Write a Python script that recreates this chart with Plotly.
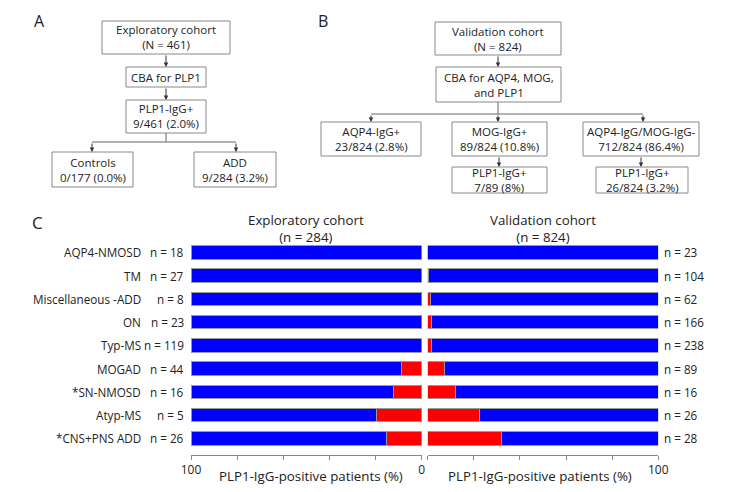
import plotly.graph_objects as go

W, H = 733, 492
OFF = 8  # page body margin offset compensation

categories = ["AQP4-NMOSD", "TM", "Miscellaneous -ADD", "ON", "Typ-MS",
              "MOGAD", "*SN-NMOSD", "Atyp-MS", "*CNS+PNS ADD"]
expl_n = [18, 27, 8, 23, 119, 44, 16, 5, 26]
valid_n = [23, 104, 62, 166, 238, 89, 16, 26, 28]
expl_pos_pct = [0, 0, 0, 0, 0, 8.7, 12.3, 19.6, 15.1]
valid_pos_pct = [0, 0.5, 1.3, 1.5, 1.7, 7.4, 12.0, 22.5, 31.8]
expl_neg_pct = [100 - v for v in expl_pos_pct]
valid_neg_pct = [100 - v for v in valid_pos_pct]

tick_vals = [0, 20, 40, 60, 80, 100]
tick_text_left = ["0", "", "", "", "", "100"]
tick_text_right = ["", "", "", "", "", "100"]

# flowchart content
boxes_A = [
    ("Exploratory cohort<br>(N = 461)", (102, 21, 230, 54)),
    ("CBA for PLP1", (126, 67, 206, 87)),
    ("PLP1-IgG+<br>9/461 (2.0%)", (126, 100, 206, 133)),
    ("Controls<br>0/177 (0.0%)", (52, 152, 133, 187)),
    ("ADD<br>9/284 (3.2%)", (194, 152, 276, 187)),
]
boxes_B = [
    ("Validation cohort<br>(N = 824)", (435, 22, 561, 55)),
    ("CBA for AQP4, MOG,<br>and PLP1", (436, 67, 561, 102)),
    ("AQP4-IgG+<br>23/824 (2.8%)", (321, 122, 421, 156)),
    ("MOG-IgG+<br>89/824 (10.8%)", (452, 122, 547, 156)),
    ("AQP4-IgG/MOG-IgG-<br>712/824 (86.4%)", (583, 122, 699, 156)),
    ("PLP1-IgG+<br>7/89 (8%)", (452, 167, 547, 193)),
    ("PLP1-IgG+<br>26/824 (3.2%)", (596, 167, 688, 193)),
]
arrows = [  # (x, y_from, y_to) in pixels
    (166, 54, 67), (166, 87, 100), (92, 142, 152), (236, 142, 152),
    (498, 55, 67), (371, 114, 122), (498, 114, 122), (643, 114, 122),
    (499, 156, 167), (641, 156, 167),
]
lines = [  # (x0, y0, x1, y1)
    (166, 133, 166, 142), (92, 142, 236, 142),
    (498, 102, 498, 114), (371, 114, 643, 114),
]

FONT = "Open Sans"
TXT = "#222"
BLUE = "#0000FF"
RED = "#FF0000"
OUT = "#999999"


def px(x):
    return (x - OFF) / W


def py(y):
    return 1 - (y - OFF) / H


fig = go.Figure()

fig.add_trace(go.Bar(y=categories, x=expl_pos_pct, orientation="h",
                     marker=dict(color=RED, line=dict(color=OUT, width=1)),
                     xaxis="x", yaxis="y", showlegend=False))
fig.add_trace(go.Bar(y=categories, x=expl_neg_pct, orientation="h",
                     marker=dict(color=BLUE, line=dict(color=OUT, width=1)),
                     xaxis="x", yaxis="y", showlegend=False))
fig.add_trace(go.Bar(y=categories, x=valid_pos_pct, orientation="h",
                     marker=dict(color=RED, line=dict(color=OUT, width=1)),
                     xaxis="x2", yaxis="y2", showlegend=False))
fig.add_trace(go.Bar(y=categories, x=valid_neg_pct, orientation="h",
                     marker=dict(color=BLUE, line=dict(color=OUT, width=1)),
                     xaxis="x2", yaxis="y2", showlegend=False))

ydom = [py(455), py(240.7)]
xax_common = dict(tickmode="array", tickvals=tick_vals,
                  ticks="outside", ticklen=4, tickcolor="#888", showline=True,
                  linecolor="#888", linewidth=1, showgrid=False, zeroline=False,
                  automargin=False,
                  tickfont=dict(family=FONT, size=12, color=TXT), fixedrange=True)
yax_common = dict(type="category", categoryorder="array", categoryarray=categories,
                  range=[8.72, -0.5], showticklabels=False, showgrid=False,
                  zeroline=False, showline=False, ticks="", domain=ydom,
                  automargin=False)

annotations = []
shapes = []

# flowchart boxes
for text, (x0, y0, x1, y1) in boxes_A + boxes_B:
    shapes.append(dict(type="rect", xref="paper", yref="paper",
                       x0=px(x0), x1=px(x1), y0=py(y1), y1=py(y0),
                       line=dict(color="#888", width=1), fillcolor="white"))
    annotations.append(dict(text=text, xref="paper", yref="paper",
                            x=px((x0 + x1) / 2), y=py((y0 + y1) / 2),
                            xanchor="center", yanchor="middle", showarrow=False,
                            font=dict(family=FONT, size=11.5, color=TXT)))
for (x0, y0, x1, y1) in lines:
    shapes.append(dict(type="line", xref="paper", yref="paper",
                       x0=px(x0), x1=px(x1), y0=py(y0), y1=py(y1),
                       line=dict(color="#666", width=1)))
for (x, yf, yt) in arrows:
    annotations.append(dict(text="", xref="paper", yref="paper",
                            x=px(x), y=py(yt), ax=0, ay=-(yt - yf),
                            showarrow=True, arrowhead=2, arrowsize=0.9,
                            arrowwidth=1, arrowcolor="#333"))

# panel letters (A and B anchored to the top edge so they stay inside)
for letter, x in [("A", 39), ("B", 323)]:
    annotations.append(dict(text=letter, xref="paper", yref="paper",
                            x=px(x), y=1.0, xanchor="center", yanchor="top",
                            showarrow=False,
                            font=dict(family=FONT, size=16, color=TXT)))
annotations.append(dict(text="C", xref="paper", yref="paper",
                        x=px(37), y=py(222), xanchor="center", yanchor="middle",
                        showarrow=False, font=dict(family=FONT, size=17, color=TXT)))

# panel C titles
annotations.append(dict(text="Exploratory cohort<br>(n = 284)", xref="paper", yref="paper",
                        x=px(306), y=py(228), xanchor="center", yanchor="middle",
                        showarrow=False, font=dict(family=FONT, size=13.3, color=TXT)))
annotations.append(dict(text="Validation cohort<br>(n = 824)", xref="paper", yref="paper",
                        x=px(543), y=py(228), xanchor="center", yanchor="middle",
                        showarrow=False, font=dict(family=FONT, size=13.3, color=TXT)))
for xc in (311, 540):
    annotations.append(dict(text="PLP1-IgG-positive patients (%)", xref="paper", yref="paper",
                            x=px(xc), y=py(476), xanchor="center", yanchor="middle",
                            showarrow=False, font=dict(family=FONT, size=13.3, color=TXT)))

# row labels
for cat, ne, nv in zip(categories, expl_n, valid_n):
    annotations.append(dict(text=cat, xref="paper", yref="y", x=px(143), y=cat,
                            xanchor="right", yanchor="middle", showarrow=False,
                            font=dict(family=FONT, size=11.7, color=TXT)))
    annotations.append(dict(text=f"n = {ne}", xref="paper", yref="y", x=px(186), y=cat,
                            xanchor="right", yanchor="middle", showarrow=False,
                            font=dict(family=FONT, size=11.7, color=TXT)))
    annotations.append(dict(text=f"n = {nv}", xref="paper", yref="y2", x=px(662), y=cat,
                            xanchor="left", yanchor="middle", showarrow=False,
                            font=dict(family=FONT, size=11.7, color=TXT)))

fig.update_layout(
    width=W, height=H,
    autosize=False,
    margin=dict(l=0, r=0, t=0, b=0, pad=0, autoexpand=False),
    paper_bgcolor="white", plot_bgcolor="white",
    barmode="stack", bargap=0.42,
    showlegend=False,
    font=dict(family=FONT, size=11, color=TXT),
    xaxis=dict(domain=[px(191), px(421.7)], range=[100, 0], anchor="y",
               ticktext=tick_text_left, **xax_common),
    xaxis2=dict(domain=[px(427.7), px(658.3)], range=[0, 100], anchor="y2",
                ticktext=tick_text_right, **xax_common),
    yaxis=dict(anchor="x", **yax_common),
    yaxis2=dict(anchor="x2", **yax_common),
    shapes=shapes,
    annotations=annotations,
)

fig.write_html("out.html")
